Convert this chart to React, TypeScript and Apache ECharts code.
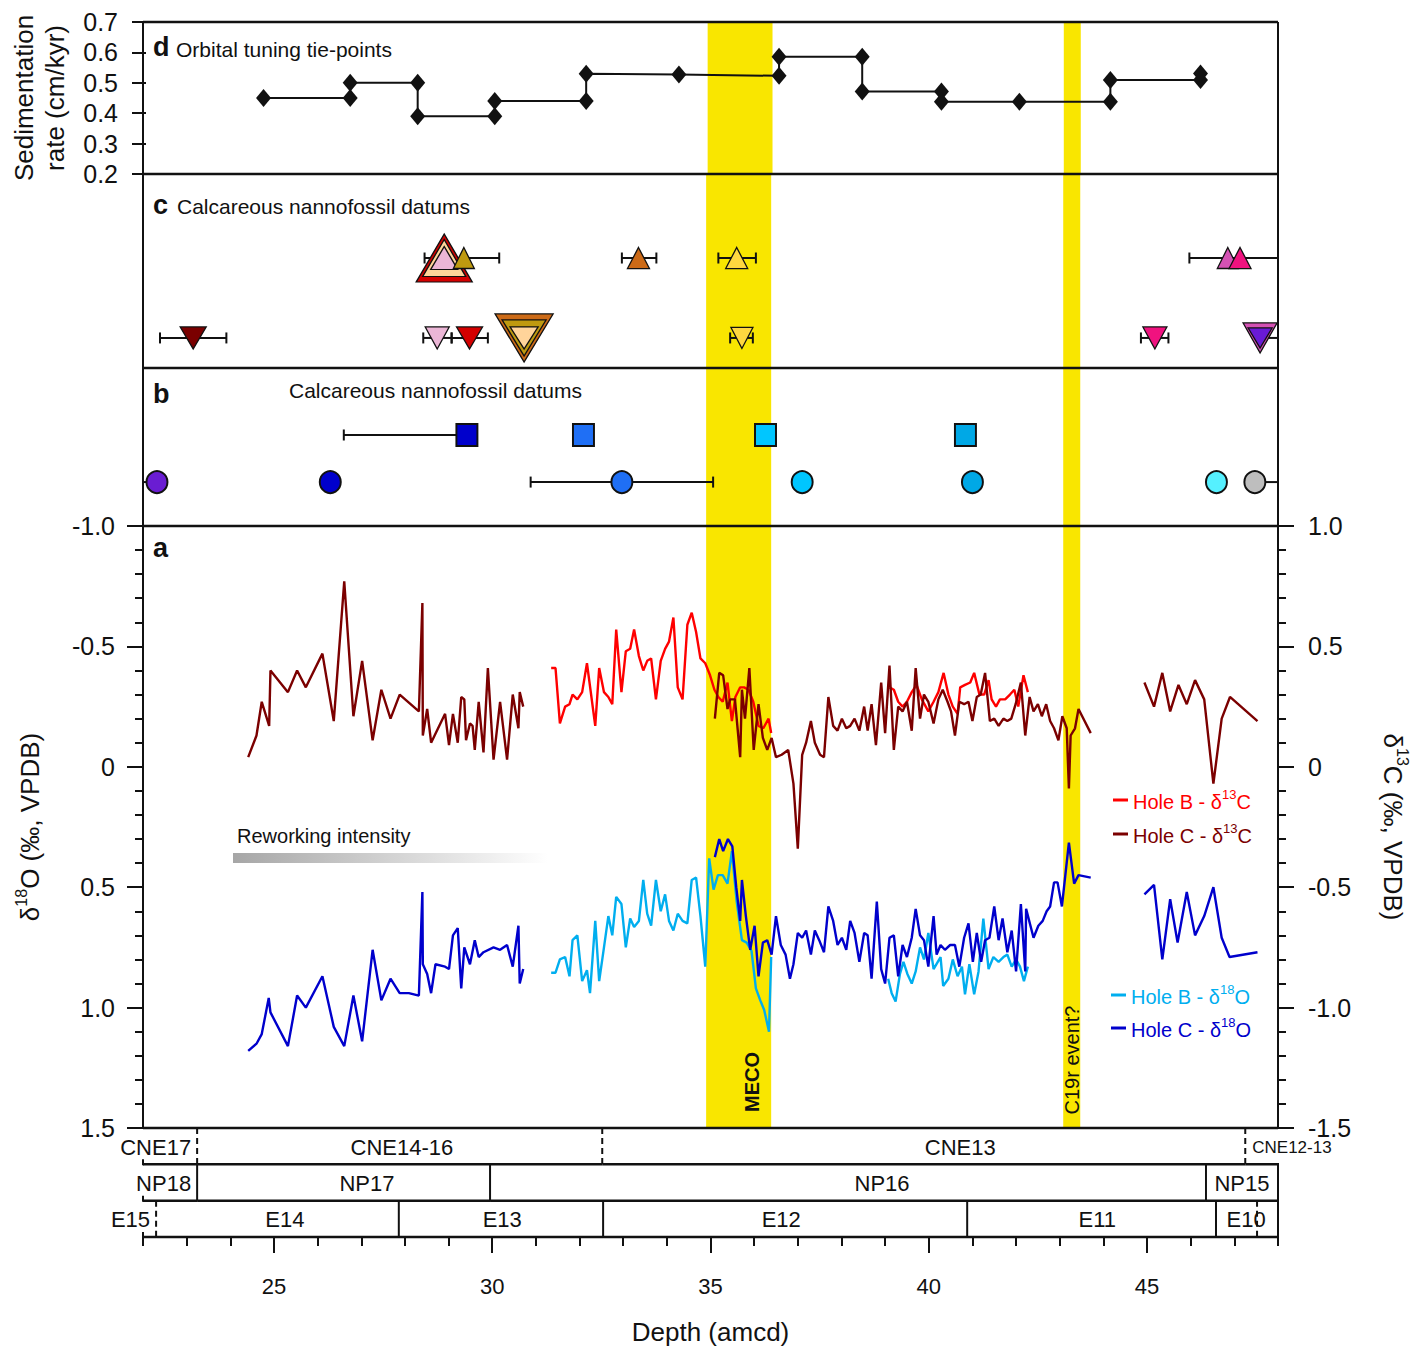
import React, { useEffect, useRef } from 'react';
import * as echarts from 'echarts';

const FONT = "'Liberation Sans', Arial, Helvetica, sans-serif";

// ---------------- DATA ----------------
// d: orbital tuning tie-points (depth amcd, sedimentation rate cm/kyr), in drawing order (step line)
const tieDepth = [24.70, 26.69, 26.69, 28.24, 28.24, 30.01, 30.01, 32.11, 32.11, 34.24, 36.54, 36.54, 38.45, 38.45, 40.27, 40.27, 42.06, 44.15, 44.15, 46.22, 46.22];
const tieRate = [0.45, 0.45, 0.50, 0.50, 0.39, 0.39, 0.44, 0.44, 0.53, 0.527, 0.523, 0.586, 0.586, 0.471, 0.471, 0.438, 0.438, 0.438, 0.509, 0.509, 0.531];

// c: calcareous nannofossil datums (row 1 = upper, triangles up; row 2 = lower, triangles down)
const cUpperDepth = [28.90, 28.90, 28.90, 29.35, 33.35, 35.60, 46.85, 47.13];
const cLowerDepth = [23.15, 28.74, 29.48, 30.73, 30.73, 30.73, 35.72, 45.18, 47.59, 47.59];
const cUpperRange = [[28.45, 30.16], [32.97, 33.76], [35.18, 36.04], [45.97, 48.0]];
const cLowerRange = [[22.39, 23.91], [28.42, 29.07], [29.07, 29.90], [35.45, 35.97], [44.86, 45.49], [47.59, 48.0]];

// b: calcareous nannofossil datums (row 1 squares, row 2 circles)
const bSquareDepth = [29.42, 32.09, 36.26, 40.84];
const bCircleDepth = [22.32, 26.29, 32.97, 37.10, 41.00, 46.59, 47.47];
const bSquareRange = [[26.60, 29.42]];
const bCircleRange = [[22.0, 22.32], [30.88, 35.06], [47.47, 48.0]];

// Event intervals (MECO, C19r event?)
const eventBands = [[34.90, 36.39], [43.08, 43.47]];

// a: Hole C d13C (segments)
const holeC13_1 = [[24.41,0.04],[24.60,0.13],[24.72,0.27],[24.89,0.17],[24.92,0.40],[25.32,0.31],[25.53,0.40],[25.73,0.33],[26.11,0.47],[26.37,0.19],[26.61,0.77],[26.82,0.21],[27.02,0.44],[27.26,0.11],[27.46,0.32],[27.67,0.20],[27.88,0.30],[28.32,0.23],[28.40,0.68],[28.41,0.13],[28.51,0.24],[28.60,0.10],[28.92,0.22],[29.01,0.09],[29.10,0.22],[29.21,0.10],[29.29,0.29],[29.36,0.28],[29.40,0.11],[29.49,0.18],[29.55,0.17],[29.60,0.07],[29.69,0.27],[29.80,0.06],[29.90,0.41],[30.03,0.03],[30.18,0.27],[30.34,0.03],[30.47,0.30],[30.60,0.16],[30.63,0.31],[30.71,0.25]];
const holeC13_2 = [[35.10,0.20],[35.20,0.39],[35.29,0.38],[35.39,0.24],[35.45,0.28],[35.56,0.28],[35.68,0.04],[35.72,0.32],[35.79,0.20],[35.89,0.41],[35.99,0.07],[36.10,0.26],[36.20,0.12],[36.30,0.07],[36.40,0.12],[36.50,0.04],[36.63,0.05],[36.78,0.07],[36.90,-0.07],[37.00,-0.34],[37.10,0.05],[37.19,0.10],[37.30,0.19],[37.39,0.10],[37.51,0.05],[37.60,0.04],[37.70,0.29],[37.81,0.17],[37.91,0.15],[38.01,0.20],[38.11,0.16],[38.20,0.17],[38.30,0.20],[38.41,0.15],[38.52,0.25],[38.60,0.15],[38.69,0.26],[38.79,0.09],[38.91,0.35],[39.00,0.14],[39.10,0.42],[39.20,0.07],[39.30,0.25],[39.40,0.23],[39.50,0.27],[39.61,0.15],[39.70,0.41],[39.80,0.20],[39.89,0.30],[39.99,0.27],[40.11,0.18],[40.22,0.28],[40.32,0.32],[40.43,0.27],[40.51,0.23],[40.60,0.13],[40.70,0.27],[40.81,0.26],[40.91,0.27],[41.00,0.19],[41.10,0.29],[41.19,0.30],[41.29,0.39],[41.40,0.19],[41.50,0.20],[41.60,0.17],[41.71,0.20],[41.80,0.19],[41.89,0.20],[41.99,0.26],[42.11,0.35],[42.21,0.13],[42.31,0.29],[42.40,0.23],[42.50,0.26],[42.59,0.21],[42.69,0.26],[42.78,0.19],[42.87,0.16],[42.97,0.11],[43.06,0.21],[43.16,0.16],[43.21,-0.09],[43.25,0.13],[43.35,0.16],[43.43,0.24],[43.71,0.14]];
const holeC13_3 = [[44.94,0.35],[45.16,0.25],[45.35,0.39],[45.53,0.23],[45.72,0.34],[45.91,0.26],[46.10,0.36],[46.31,0.28],[46.52,-0.07],[46.71,0.20],[46.90,0.29],[47.53,0.19]];

// a: Hole B d13C (segments)
const holeB13_1 = [[31.35,0.41],[31.45,0.41],[31.55,0.18],[31.67,0.25],[31.77,0.26],[31.84,0.30],[31.95,0.28],[32.06,0.31],[32.17,0.43],[32.36,0.17],[32.45,0.41],[32.56,0.31],[32.66,0.29],[32.75,0.26],[32.84,0.57],[32.96,0.31],[33.06,0.48],[33.16,0.49],[33.25,0.57],[33.36,0.46],[33.46,0.40],[33.55,0.44],[33.64,0.45],[33.75,0.28],[33.86,0.44],[33.96,0.49],[34.05,0.52],[34.15,0.62],[34.25,0.33],[34.36,0.28],[34.47,0.59],[34.57,0.64],[34.67,0.56],[34.77,0.45],[34.88,0.43],[34.99,0.38],[35.09,0.32],[35.18,0.29],[35.28,0.27],[35.39,0.35],[35.49,0.19],[35.57,0.29],[35.68,0.33],[35.77,0.33],[35.87,0.32],[35.98,0.27],[36.10,0.17],[36.21,0.16],[36.33,0.20],[36.39,0.14]];
const holeB13_2 = [[39.10,0.33],[39.20,0.32],[39.30,0.27],[39.40,0.25],[39.50,0.27],[39.61,0.31],[39.72,0.34],[39.84,0.28],[39.99,0.23],[40.11,0.27],[40.22,0.31],[40.34,0.39],[40.45,0.30],[40.55,0.25],[40.66,0.22],[40.72,0.33],[40.83,0.34],[40.95,0.35],[41.04,0.39],[41.16,0.30],[41.27,0.30],[41.37,0.36],[41.44,0.28],[41.54,0.25],[41.63,0.28],[41.75,0.28],[41.86,0.30],[41.96,0.32],[42.05,0.25],[42.17,0.38],[42.27,0.31]];

// a: Hole C d18O (segments)
const holeC18_1 = [[24.41,1.18],[24.60,1.15],[24.72,1.11],[24.88,0.96],[24.92,1.02],[25.32,1.16],[25.53,0.95],[25.73,1.00],[26.11,0.87],[26.37,1.08],[26.61,1.16],[26.82,0.95],[27.02,1.14],[27.26,0.76],[27.46,0.97],[27.67,0.88],[27.88,0.94],[28.09,0.94],[28.32,0.95],[28.40,0.52],[28.41,0.82],[28.51,0.86],[28.60,0.94],[28.70,0.82],[28.92,0.83],[29.01,0.84],[29.10,0.70],[29.21,0.67],[29.29,0.92],[29.36,0.75],[29.49,0.82],[29.60,0.72],[29.69,0.79],[29.80,0.77],[30.03,0.75],[30.18,0.76],[30.34,0.74],[30.47,0.83],[30.60,0.66],[30.63,0.90],[30.71,0.84]];
const holeC18_2 = [[35.10,0.375],[35.20,0.30],[35.29,0.35],[35.40,0.30],[35.50,0.33],[35.59,0.50],[35.68,0.64],[35.72,0.47],[35.81,0.62],[35.91,0.76],[36.01,0.66],[36.10,0.87],[36.20,0.73],[36.30,0.72],[36.40,0.78],[36.50,0.62],[36.61,0.74],[36.72,0.78],[36.82,0.88],[36.90,0.82],[37.00,0.69],[37.10,0.71],[37.19,0.68],[37.30,0.78],[37.39,0.68],[37.49,0.72],[37.60,0.77],[37.70,0.58],[37.81,0.64],[37.91,0.74],[38.01,0.71],[38.11,0.76],[38.20,0.64],[38.30,0.69],[38.41,0.81],[38.52,0.69],[38.60,0.70],[38.69,0.88],[38.81,0.56],[38.91,0.84],[39.00,0.90],[39.10,0.71],[39.20,0.70],[39.30,0.87],[39.40,0.74],[39.50,0.79],[39.61,0.71],[39.70,0.59],[39.80,0.70],[39.89,0.72],[39.99,0.83],[40.11,0.62],[40.18,0.78],[40.27,0.74],[40.37,0.76],[40.49,0.74],[40.60,0.74],[40.70,0.83],[40.81,0.71],[40.91,0.65],[41.01,0.81],[41.10,0.69],[41.20,0.81],[41.29,0.72],[41.39,0.71],[41.50,0.58],[41.60,0.72],[41.69,0.63],[41.80,0.77],[41.90,0.68],[42.00,0.85],[42.11,0.57],[42.21,0.85],[42.23,0.59],[42.40,0.71],[42.51,0.66],[42.61,0.64],[42.70,0.60],[42.78,0.58],[42.87,0.48],[42.95,0.48],[43.05,0.58],[43.21,0.315],[43.33,0.485],[43.43,0.45],[43.71,0.46]];
const holeC18_3 = [[44.94,0.53],[45.16,0.49],[45.35,0.80],[45.53,0.55],[45.70,0.73],[45.91,0.52],[46.10,0.70],[46.31,0.62],[46.52,0.50],[46.71,0.71],[46.89,0.79],[47.53,0.77]];

// a: Hole B d18O (segments)
const holeB18_1 = [[31.35,0.855],[31.45,0.855],[31.55,0.80],[31.67,0.79],[31.77,0.87],[31.84,0.72],[31.95,0.70],[32.06,0.89],[32.17,0.845],[32.24,0.94],[32.36,0.64],[32.45,0.89],[32.56,0.75],[32.66,0.62],[32.75,0.70],[32.84,0.54],[32.96,0.57],[33.06,0.75],[33.16,0.63],[33.25,0.665],[33.36,0.64],[33.46,0.47],[33.55,0.61],[33.64,0.66],[33.75,0.47],[33.86,0.60],[33.96,0.53],[34.05,0.64],[34.15,0.68],[34.25,0.61],[34.36,0.64],[34.47,0.65],[34.57,0.47],[34.67,0.46],[34.77,0.62],[34.88,0.83],[34.97,0.38],[35.07,0.51],[35.17,0.45],[35.28,0.45],[35.39,0.485],[35.49,0.35],[35.60,0.56],[35.72,0.72],[35.83,0.73],[35.94,0.765],[36.04,0.92],[36.14,0.97],[36.23,1.01],[36.34,1.10],[36.39,0.79]];
const holeB18_2 = [[39.07,0.88],[39.15,0.94],[39.24,0.975],[39.34,0.86],[39.42,0.81],[39.51,0.86],[39.61,0.90],[39.70,0.85],[39.80,0.75],[39.89,0.80],[39.99,0.69],[40.11,0.84],[40.27,0.79],[40.33,0.91],[40.45,0.88],[40.55,0.80],[40.66,0.87],[40.76,0.83],[40.83,0.945],[40.93,0.82],[41.04,0.945],[41.14,0.85],[41.25,0.63],[41.37,0.84],[41.48,0.79],[41.60,0.81],[41.71,0.79],[41.80,0.78],[41.90,0.83],[42.00,0.80],[42.09,0.83],[42.18,0.89],[42.27,0.83]];

// Biozones (names, boundaries in depth, label anchor depth where not centred)
const cneNames = ['CNE17', 'CNE14-16', 'CNE13', 'CNE12-13'];
const cneEdges = [22, 23.24, 32.52, 47.25, 48];
const cneLabelAt = [null, 27.93, 40.72, null];
const npNames = ['NP18', 'NP17', 'NP16', 'NP15'];
const npEdges = [22, 23.24, 29.95, 46.35, 48];
const npLabelAt = [null, 27.13, 38.93, null];
const eNames = ['E15', 'E14', 'E13', 'E12', 'E11', 'E10'];
const eEdges = [22, 22.30, 27.86, 32.54, 40.88, 46.58, 48];
const eLabelAt = [null, 25.25, 30.23, 36.62, 43.86, 47.27];
const eExtraBoundary = [47.52];

const xMajor = [25, 30, 35, 40, 45];

// ---------------- STYLES ----------------
const cUpperColor = ['#d40000', '#ffd49a', '#ebb6d6', '#bf9a10', '#cc6a17', '#ffd740', '#d452b4', '#f0127f'];
const cUpperSize = [[56, 48], [43, 37], [27, 23], [21, 21], [22, 21], [22, 21], [21, 21], [22, 21]];
const cLowerColor = ['#7a0000', '#ebb6d6', '#d40000', '#cc6a17', '#bf9a10', '#ffd49a', '#ffd740', '#f0127f', '#d452b4', '#6a1ad6'];
const cLowerSize = [[26, 22], [24, 22], [26, 22], [58, 48], [44, 36], [28, 22], [22, 21], [24, 22], [34, 30], [24, 20]];
const bSquareColor = ['#0000cc', '#1f6ff5', '#00c6ff', '#00a8e6'];
const bCircleColor = ['#6a1dd2', '#0000cc', '#1f6ff5', '#00c6ff', '#00a8e6', '#55f0ff', '#bebebe'];
const cneDashed = [true, true, true];
const npDashed = [false, false, false];
const eDashed = [true, false, false, false, false];

const C_B13 = '#ff0000';
const C_C13 = '#7b0000';
const C_B18 = '#00aeef';
const C_C18 = '#0000cc';
const YELLOW = '#f9e600';
const INK = '#111111';

const L = 143, R = 1278;
const W = R - L;

function withGaps(segs: number[][][]) {
  const out: any[] = [];
  segs.forEach((s, i) => {
    if (i > 0) out.push([(segs[i - 1][segs[i - 1].length - 1][0] + s[0][0]) / 2, '-']);
    s.forEach((p) => out.push(p));
  });
  return out;
}

function fmt(v: number) {
  if (Math.abs(v) < 1e-9) return '0';
  return v.toFixed(1);
}

function bandItem(params: any, api: any) {
  const s = api.coord([api.value(0), 0]);
  const e = api.coord([api.value(1), 0]);
  const cs = params.coordSys;
  return { type: 'rect', shape: { x: s[0], y: cs.y, width: e[0] - s[0], height: cs.height }, style: { fill: YELLOW } };
}

function errItem(params: any, api: any) {
  const lo = api.value(0), hi = api.value(1), row = api.value(2);
  const p1 = api.coord([lo, row]);
  const p2 = api.coord([hi, row]);
  const cap = 5.5;
  const st = { stroke: INK, lineWidth: 2 };
  const ch: any[] = [{ type: 'line', shape: { x1: p1[0], y1: p1[1], x2: p2[0], y2: p2[1] }, style: st }];
  if (lo > 22.05) ch.push({ type: 'line', shape: { x1: p1[0], y1: p1[1] - cap, x2: p1[0], y2: p1[1] + cap }, style: st });
  if (hi < 47.95) ch.push({ type: 'line', shape: { x1: p2[0], y1: p2[1] - cap, x2: p2[0], y2: p2[1] + cap }, style: st });
  return { type: 'group', children: ch };
}

type Zone = { from: number; to: number; row: number; name: string; at: number | null; dashed: boolean; first: boolean; last: boolean; markOnly?: boolean };
const zoneItems: Zone[] = [];
function pushRow(names: string[], edges: number[], at: (number | null)[], dashed: boolean[], row: number) {
  names.forEach((n, i) => {
    zoneItems.push({ from: edges[i], to: edges[i + 1], row, name: n, at: at[i], dashed: i > 0 ? dashed[i - 1] : false, first: i === 0, last: i === names.length - 1 });
  });
}
pushRow(cneNames, cneEdges, cneLabelAt, cneDashed, 0);
pushRow(npNames, npEdges, npLabelAt, npDashed, 1);
pushRow(eNames, eEdges, eLabelAt, eDashed, 2);
eExtraBoundary.forEach((d) => zoneItems.push({ from: d, to: d, row: 2, name: '', at: null, dashed: true, first: false, last: false, markOnly: true }));

function zoneItem(params: any, api: any) {
  const z = zoneItems[params.dataIndex];
  const a = api.coord([z.from, z.row]);
  const b = api.coord([z.to, z.row + 1]);
  const ch: any[] = [];
  const vline = (x: number, dashed: boolean) => ({
    type: 'line', shape: { x1: x, y1: a[1], x2: x, y2: b[1] },
    style: { stroke: INK, lineWidth: 2, lineDash: dashed ? [6, 4] : null },
  });
  if (z.markOnly) {
    ch.push(vline(a[0], true));
    return { type: 'group', children: ch };
  }
  ch.push({ type: 'line', shape: { x1: a[0], y1: b[1], x2: b[0], y2: b[1] }, style: { stroke: INK, lineWidth: 2.5 } });
  if (z.from > 22.001) ch.push(vline(a[0], z.dashed));
  if (z.first) ch.push({ type: 'line', shape: { x1: a[0], y1: b[1] - 5, x2: a[0], y2: b[1] + 1 }, style: { stroke: INK, lineWidth: 2 } });
  const wpx = b[0] - a[0];
  const tw = z.name.length * 12.5;
  let tx = (a[0] + b[0]) / 2, align = 'center', fs = 22;
  if (z.at != null) {
    tx = api.coord([z.at, z.row])[0];
  } else if (wpx < tw + 8) {
    if (z.first) { tx = b[0] - 6; align = 'right'; }
    else { tx = a[0] + 7; align = 'left'; fs = 17; }
  }
  const ty = (a[1] + b[1]) / 2 + 1;
  ch.push({
    type: 'text', x: tx, y: ty,
    style: { text: z.name, fontSize: fs, fontFamily: FONT, fill: INK, align, textAlign: align, verticalAlign: 'middle', textVerticalAlign: 'middle' },
  });
  return { type: 'group', children: ch };
}

function superscript(name: string) {
  const m = name.match(/^(.*δ)(\d+)(.*)$/);
  if (!m) return name;
  return `{t|${m[1]}}{s|${m[2]}}{t|${m[3]}}`;
}

function buildOption(): any {
  const axisLineStyle = { color: INK, width: 2 };
  const grids = [
    { left: L, top: 22, width: W, height: 152 },
    { left: L, top: 174, width: W, height: 194 },
    { left: L, top: 368, width: W, height: 158 },
    { left: L, top: 526, width: W, height: 602 },
    { left: L, top: 1128, width: W, height: 109 },
    { left: L, top: 1128, width: W, height: 109 },
  ];
  const hiddenX = (g: number) => ({ type: 'value', gridIndex: g, min: 22, max: 48, show: false, axisLine: { onZero: false } });

  const xAxis = [
    hiddenX(0), hiddenX(1), hiddenX(2), hiddenX(3),
    {
      type: 'value', gridIndex: 4, min: 22, max: 48, position: 'bottom',
      axisLine: { onZero: false, lineStyle: axisLineStyle },
      axisTick: { customValues: xMajor, length: 16, lineStyle: { color: INK, width: 2 } },
      axisLabel: { customValues: xMajor, fontSize: 22, margin: 38, color: INK, fontFamily: FONT },
      splitLine: { show: false },
      name: 'Depth (amcd)', nameLocation: 'middle', nameGap: 82,
      nameTextStyle: { fontSize: 26, color: INK, fontFamily: FONT },
    },
    {
      type: 'value', gridIndex: 5, min: 22, max: 48, interval: 1, position: 'bottom',
      axisLine: { show: false, onZero: false },
      axisTick: { length: 9, lineStyle: { color: INK, width: 2 } },
      axisLabel: { show: false }, splitLine: { show: false },
    },
  ];

  const nameRich = {
    t: { fontSize: 26, lineHeight: 30, fontFamily: FONT, color: INK, verticalAlign: 'bottom' },
    s: { fontSize: 16, lineHeight: 16, fontFamily: FONT, color: INK, verticalAlign: 'top' },
  };

  const yAxis = [
    {
      type: 'value', gridIndex: 0, min: 0.2, max: 0.7, interval: 0.1, position: 'left',
      axisLine: { show: false, onZero: false },
      axisTick: { show: true, length: 14, lineStyle: { color: INK, width: 2 } },
      axisLabel: { formatter: fmt, fontSize: 25, margin: 28, color: INK, fontFamily: FONT },
      splitLine: { show: false },
      name: 'Sedimentation\nrate (cm/kyr)', nameLocation: 'middle', nameRotate: 90, nameGap: 76,
      nameTextStyle: { fontSize: 26, lineHeight: 31, color: INK, fontFamily: FONT },
    },
    { type: 'value', gridIndex: 1, min: -0.051, max: 2.376, inverse: true, show: false, axisLine: { onZero: false } },
    { type: 'value', gridIndex: 2, min: -0.423, max: 2.933, inverse: true, show: false, axisLine: { onZero: false } },
    {
      type: 'value', gridIndex: 3, min: -1, max: 1.5, interval: 0.5, inverse: true, position: 'left',
      axisLine: { show: true, onZero: false, lineStyle: axisLineStyle },
      axisTick: { show: true, length: 16, lineStyle: { color: INK, width: 2 } },
      minorTick: { show: true, splitNumber: 5, length: 8, lineStyle: { color: INK, width: 2 } },
      axisLabel: { formatter: fmt, fontSize: 25, margin: 28, color: INK, fontFamily: FONT },
      splitLine: { show: false }, minorSplitLine: { show: false },
      name: '{t|δ}{s|18}{t|O (‰, VPDB)}', nameLocation: 'middle', nameRotate: 90, nameGap: 100,
      nameTextStyle: { rich: nameRich },
    },
    {
      type: 'value', gridIndex: 3, min: -1.5, max: 1, interval: 0.5, position: 'right',
      axisLine: { show: true, onZero: false, lineStyle: axisLineStyle },
      axisTick: { show: true, length: 16, lineStyle: { color: INK, width: 2 } },
      minorTick: { show: true, splitNumber: 5, length: 8, lineStyle: { color: INK, width: 2 } },
      axisLabel: { formatter: fmt, fontSize: 25, margin: 30, color: INK, fontFamily: FONT },
      splitLine: { show: false }, minorSplitLine: { show: false },
      name: '{t|δ}{s|13}{t|C (‰, VPDB)}', nameLocation: 'middle', nameRotate: -90, nameGap: 102,
      nameTextStyle: { rich: nameRich },
    },
    { type: 'value', gridIndex: 4, min: 0, max: 3, inverse: true, show: false, axisLine: { onZero: false } },
    { type: 'value', gridIndex: 5, min: 0, max: 3, inverse: true, show: false, axisLine: { onZero: false } },
  ];

  const bandSeries = [0, 1, 2, 3].map((g) => ({
    type: 'custom', name: 'band' + g, xAxisIndex: g, yAxisIndex: g,
    data: eventBands, renderItem: bandItem, z: 1, silent: true,
  }));

  const tieData = tieDepth.map((d, i) => [d, tieRate[i]]);

  const triItems = (depths: number[], row: number, colors: string[], sizes: number[][], down: boolean) =>
    depths.map((d, i) => ({
      value: [d, row], symbol: 'triangle', symbolSize: sizes[i], symbolRotate: down ? 180 : 0,
      itemStyle: { color: colors[i], borderColor: INK, borderWidth: 1.3, opacity: 1 },
    }));

  const cMarkers = [
    ...triItems(cUpperDepth, 1, cUpperColor, cUpperSize, false),
    ...triItems(cLowerDepth, 2, cLowerColor, cLowerSize, true),
  ];
  const cBars = [
    ...cUpperRange.map((r) => [r[0], r[1], 1]),
    ...cLowerRange.map((r) => [r[0], r[1], 2]),
  ];
  const bMarkers = [
    ...bSquareDepth.map((d, i) => ({ value: [d, 1], symbol: 'rect', symbolSize: [21, 22], itemStyle: { color: bSquareColor[i], borderColor: INK, borderWidth: 2, opacity: 1 } })),
    ...bCircleDepth.map((d, i) => ({ value: [d, 2], symbol: 'circle', symbolSize: [21, 22], itemStyle: { color: bCircleColor[i], borderColor: INK, borderWidth: 2, opacity: 1 } })),
  ];
  const bBars = [
    ...bSquareRange.map((r) => [r[0], r[1], 1]),
    ...bCircleRange.map((r) => [r[0], r[1], 2]),
  ];

  const lineS = (name: string, color: string, yIdx: number, data: any[]) => ({
    type: 'line', name, xAxisIndex: 3, yAxisIndex: yIdx, data, showSymbol: false, symbol: 'none',
    connectNulls: false, lineStyle: { color, width: 2.4 }, itemStyle: { color }, color, z: 3, silent: true,
  });

  const series: any[] = [
    ...bandSeries,
    {
      type: 'line', name: 'tie', xAxisIndex: 0, yAxisIndex: 0, data: tieData,
      symbol: 'diamond', symbolSize: [15, 18], showSymbol: true,
      lineStyle: { color: INK, width: 2 }, itemStyle: { color: INK }, z: 3, silent: true,
    },
    { type: 'custom', name: 'cbars', xAxisIndex: 1, yAxisIndex: 1, data: cBars, renderItem: errItem, z: 2, silent: true },
    { type: 'scatter', name: 'cmarkers', xAxisIndex: 1, yAxisIndex: 1, data: cMarkers, z: 3, silent: true, itemStyle: { opacity: 1 } },
    { type: 'custom', name: 'bbars', xAxisIndex: 2, yAxisIndex: 2, data: bBars, renderItem: errItem, z: 2, silent: true },
    { type: 'scatter', name: 'bmarkers', xAxisIndex: 2, yAxisIndex: 2, data: bMarkers, z: 3, silent: true, itemStyle: { opacity: 1 } },
    lineS('Hole B - δ13C', C_B13, 4, withGaps([holeB13_1, holeB13_2])),
    lineS('Hole C - δ13C', C_C13, 4, withGaps([holeC13_1, holeC13_2, holeC13_3])),
    lineS('Hole B - δ18O', C_B18, 3, withGaps([holeB18_1, holeB18_2])),
    lineS('Hole C - δ18O', C_C18, 3, withGaps([holeC18_1, holeC18_2, holeC18_3])),
    {
      type: 'custom', name: 'zones', xAxisIndex: 4, yAxisIndex: 5, clip: false,
      data: zoneItems.map((z) => [z.from, z.to, z.row]), renderItem: zoneItem, z: 4, silent: true,
    },
  ];

  const legendRich = {
    t: { fontSize: 20, lineHeight: 24, fontFamily: FONT, verticalAlign: 'bottom' },
    s: { fontSize: 13, lineHeight: 13, fontFamily: FONT, verticalAlign: 'top' },
  };
  const legendBase = {
    orient: 'vertical', icon: 'rect', itemWidth: 15, itemHeight: 3, selectedMode: false,
    formatter: superscript, textStyle: { fontSize: 20, fontFamily: FONT, rich: legendRich },
  };
  const legend = [
    {
      ...legendBase, left: 1108, top: 783, itemGap: 10,
      data: [
        { name: 'Hole B - δ13C', textStyle: { color: C_B13 } },
        { name: 'Hole C - δ13C', textStyle: { color: C_C13 } },
      ],
    },
    {
      ...legendBase, left: 1106, top: 978, itemGap: 9,
      data: [
        { name: 'Hole B - δ18O', textStyle: { color: C_B18 } },
        { name: 'Hole C - δ18O', textStyle: { color: C_C18 } },
      ],
    },
  ];

  const txt = (x: number, y: number, text: string, size: number, bold = false) => ({
    type: 'text', x, y, z: 100,
    style: {
      text, fontSize: size, fontWeight: bold ? 'bold' : 'normal', fontFamily: FONT, fill: INK,
      align: 'left', textAlign: 'left', verticalAlign: 'middle', textVerticalAlign: 'middle',
    },
  });
  const hline = (y: number, x1 = L, x2 = R, w = 2.5) => ({ type: 'line', z: 100, shape: { x1, y1: y, x2, y2: y }, style: { stroke: INK, lineWidth: w } });
  const vline = (x: number, y1: number, y2: number, w = 2) => ({ type: 'line', z: 100, shape: { x1: x, y1, x2: x, y2 }, style: { stroke: INK, lineWidth: w } });

  const graphic = [
    hline(22), hline(174), hline(368), hline(526), hline(1128),
    vline(L, 22, 526), vline(R, 22, 1128), vline(R, 1163, 1237),
    txt(153, 47, 'd', 27, true), txt(176, 49, 'Orbital tuning tie-points', 21),
    txt(153, 205, 'c', 27, true), txt(177, 206, 'Calcareous nannofossil datums', 21),
    txt(153, 394, 'b', 27, true), txt(289, 390, 'Calcareous nannofossil datums', 21),
    txt(153, 548, 'a', 27, true),
    txt(237, 836, 'Reworking intensity', 20),
    {
      type: 'rect', z: 100, shape: { x: 233, y: 853, width: 315, height: 10 },
      style: {
        fill: { type: 'linear', x: 0, y: 0, x2: 1, y2: 0, colorStops: [{ offset: 0, color: '#a6a6a6' }, { offset: 1, color: '#ffffff' }] },
      },
    },
    {
      type: 'text', x: 752, y: 1082, rotation: Math.PI / 2, z: 100,
      style: { text: 'MECO', fontSize: 20, fontWeight: 'bold', fontFamily: FONT, fill: INK, align: 'center', textAlign: 'center', verticalAlign: 'middle', textVerticalAlign: 'middle' },
    },
    {
      type: 'text', x: 1072, y: 1060, rotation: Math.PI / 2, z: 100,
      style: { text: 'C19r event?', fontSize: 20, fontFamily: FONT, fill: INK, align: 'center', textAlign: 'center', verticalAlign: 'middle', textVerticalAlign: 'middle' },
    },
  ];

  return {
    animation: false,
    backgroundColor: '#ffffff',
    textStyle: { fontFamily: FONT },
    grid: grids,
    xAxis,
    yAxis,
    legend,
    series,
    graphic,
  };
}

export default function App() {
  const ref = useRef<HTMLDivElement>(null);
  useEffect(() => {
    document.body.style.margin = '0';
    const chart = echarts.init(ref.current as HTMLDivElement, null, { renderer: 'svg' });
    chart.setOption(buildOption());
    return () => chart.dispose();
  }, []);
  return <div ref={ref} style={{ width: 1426, height: 1351 }} />;
}
